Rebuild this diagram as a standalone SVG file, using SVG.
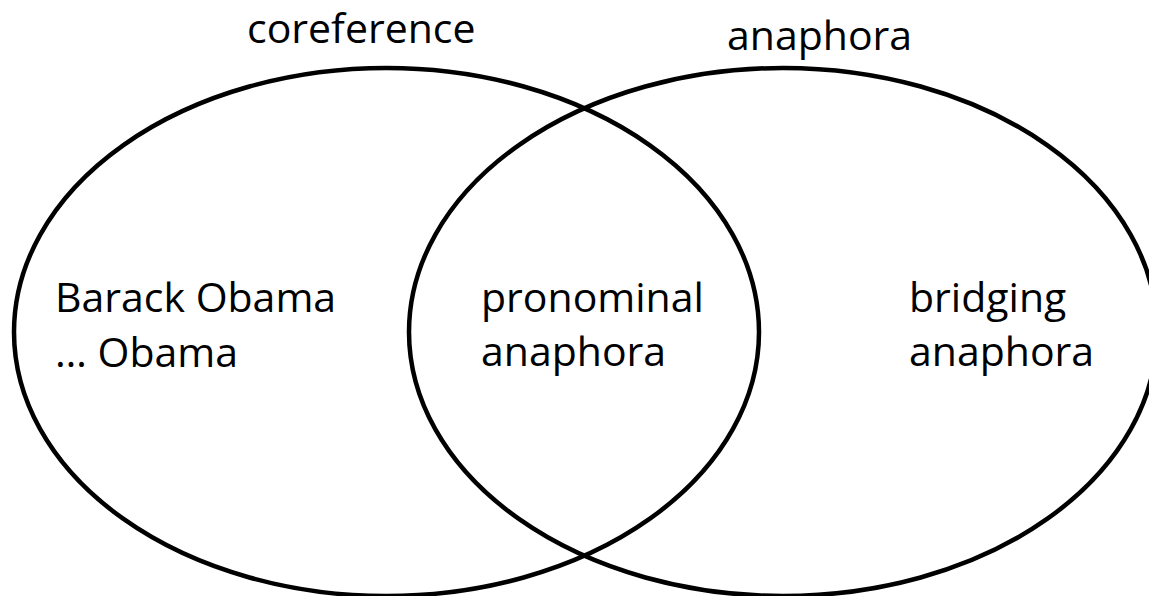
<svg xmlns="http://www.w3.org/2000/svg" width="1149" height="596" viewBox="0 0 1149 596">
  <style>
    .set { fill: none; stroke: #000; stroke-width: 4.5; }
    .lbl { font-family: "Open Sans", "Liberation Sans", sans-serif; font-size: 41px; fill: #000; }
  </style>
  <rect width="1149" height="596" fill="#fff"/>
  <g id="coreference">
    <ellipse class="set" cx="386.5" cy="332" rx="372.5" ry="264"/>
    <text class="lbl" x="247" y="43">coreference</text>
  </g>
  <g id="anaphora">
    <ellipse class="set" cx="783" cy="332" rx="374" ry="264"/>
    <text class="lbl" x="727" y="50">anaphora</text>
  </g>
  <g id="barack-obama">
    <text class="lbl" x="55" y="312">Barack Obama</text>
    <text class="lbl" x="55" y="367">… Obama</text>
  </g>
  <g id="pronominal-anaphora">
    <text class="lbl" x="481" y="312">pronominal</text>
    <text class="lbl" x="481" y="366">anaphora</text>
  </g>
  <g id="bridging-anaphora">
    <text class="lbl" x="909" y="312">bridging</text>
    <text class="lbl" x="909" y="366">anaphora</text>
  </g>
  <g id="connectors"></g>
</svg>
